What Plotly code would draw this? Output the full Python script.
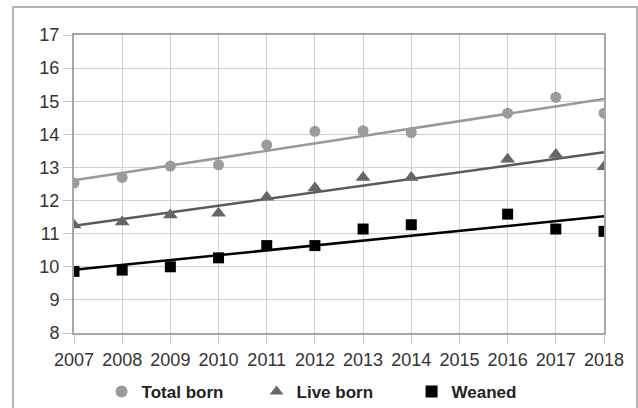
import numpy as np
import plotly.graph_objects as go

years = [2007, 2008, 2009, 2010, 2011, 2012, 2013, 2014, 2016, 2017, 2018]
total_born = [12.53, 12.70, 13.04, 13.08, 13.68, 14.09, 14.11, 14.05, 14.64, 15.12, 14.64]
live_born = [11.26, 11.35, 11.56, 11.62, 12.10, 12.38, 12.70, 12.70, 13.25, 13.39, 13.02]
weaned = [9.86, 9.90, 10.00, 10.27, 10.64, 10.64, 11.14, 11.27, 11.59, 11.14, 11.07]
x_ticks = list(range(2007, 2019))
y_ticks = list(range(8, 18))

series = [
    ("Total born", total_born, "#9b9b9b", "#999999", "circle", 11),
    ("Live born", live_born, "#666666", "#5a5a5a", "triangle-up", 13),
    ("Weaned", weaned, "#000000", "#000000", "square", 11),
]

fig = go.Figure()
xs = np.array(years, dtype=float)
for name, vals, mcol, lcol, sym, size in series:
    k, b = np.polyfit(xs, np.array(vals), 1)
    xl = np.array([x_ticks[0], x_ticks[-1]], dtype=float)
    fig.add_trace(go.Scatter(x=xl, y=k * xl + b, mode="lines",
                             line=dict(color=lcol, width=2.5),
                             showlegend=False, hoverinfo="skip"))
for name, vals, mcol, lcol, sym, size in series:
    fig.add_trace(go.Scatter(x=years, y=vals, mode="markers", name=name,
                             marker=dict(symbol=sym, size=size, color=mcol,
                                         line=dict(width=0))))

fig.update_layout(
    width=638, height=408,
    margin=dict(l=74, r=34, t=35, b=75, autoexpand=False),
    paper_bgcolor="white", plot_bgcolor="white",
    font=dict(family="Liberation Sans, Arial, sans-serif", size=18, color="#333333"),
    showlegend=True,
    legend=dict(orientation="h", x=0.052, xanchor="left", y=-0.198, yanchor="middle",
                font=dict(size=17, color="#222222", family="Liberation Sans, Arial, sans-serif",
                          weight="bold"),
                entrywidth=110, entrywidthmode="pixels", itemsizing="constant",
                bgcolor="rgba(0,0,0,0)"),
    xaxis=dict(range=[2007, 2018], tickvals=x_ticks, ticktext=[str(t) for t in x_ticks],
               showgrid=True, gridcolor="#cfcfcf", gridwidth=1,
               showline=True, linecolor="#a6a6a6", linewidth=2, mirror=True,
               ticks="outside", ticklen=9, tickcolor="#c8c8c8", tickwidth=1,
               zeroline=False, fixedrange=True, automargin=False),
    yaxis=dict(range=[8, 17], tickvals=y_ticks,
               showgrid=True, gridcolor="#cfcfcf", gridwidth=1,
               showline=True, linecolor="#a6a6a6", linewidth=2, mirror=True,
               ticks="outside", ticklen=9, tickcolor="#c8c8c8", tickwidth=1,
               zeroline=False, fixedrange=True, automargin=False),
    shapes=[dict(type="rect", xref="paper", yref="paper",
                 x0=-0.1151, x1=1.0623, y0=-0.27, y1=1.094,
                 line=dict(color="#b4b4b4", width=2), fillcolor="rgba(0,0,0,0)",
                 layer="below")],
)

fig.write_html("out.html", config={"displayModeBar": False},
               post_script="document.body.style.margin='0';document.body.style.overflow='hidden';")
